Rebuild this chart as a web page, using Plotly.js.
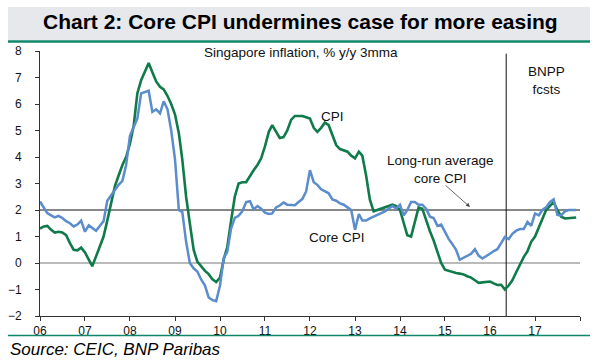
<!DOCTYPE html>
<html><head><meta charset="utf-8">
<script src="https://cdn.plot.ly/plotly-3.0.1.min.js"></script>
<style>html,body{margin:0;padding:0;background:#fff}#chart{width:600px;height:360px}</style>
</head><body><div id="chart"></div>
<script>
const startYear = 2006;
// Headline CPI, % y/y 3mma, monthly Jan-2006 .. Dec-2017
const cpi = [
  1.30, 1.38, 1.40, 1.25, 1.15, 1.18, 1.15, 1.05, 0.75, 0.50, 0.48, 0.58,
  0.40, 0.12, -0.12, 0.25, 0.60, 1.00, 1.60, 2.30, 2.90, 3.30, 3.70, 4.00,
  4.50, 5.20, 6.40, 6.90, 7.20, 7.55, 7.20, 6.85, 6.65, 6.55, 6.30, 6.00,
  5.60, 4.90, 3.90, 2.50, 1.50, 0.50, 0.05, -0.14, -0.30, -0.42, -0.62, -0.72,
  -0.55, 0.15, 0.60, 1.60, 2.50, 3.00, 3.05, 3.05, 3.30, 3.50, 3.70, 3.95,
  4.40, 4.95, 5.20, 4.95, 4.72, 4.75, 5.00, 5.40, 5.55, 5.55, 5.55, 5.50,
  5.45, 5.10, 4.95, 5.10, 5.30, 5.20, 4.80, 4.45, 4.30, 4.25, 4.20, 4.05,
  3.95, 4.20, 4.05, 3.30, 2.40, 1.95, 2.00, 2.05, 2.10, 2.15, 2.20, 2.15,
  2.00, 1.50, 1.05, 1.00, 1.50, 2.10, 2.05, 1.60, 1.20, 0.85, 0.45, 0.00,
  -0.25, -0.30, -0.33, -0.38, -0.40, -0.43, -0.50, -0.55, -0.65, -0.75, -0.73, -0.72,
  -0.70, -0.77, -0.83, -0.82, -1.00, -0.85, -0.65, -0.35, -0.05, 0.22, 0.45, 0.80,
  1.00, 1.35, 1.70, 2.00, 2.15, 2.30, 2.00, 1.75, 1.68, 1.70, 1.72, 1.72
];
// Core CPI, % y/y 3mma
const coreCpi = [
  2.32, 2.08, 1.88, 1.80, 1.72, 1.78, 1.70, 1.58, 1.50, 1.38, 1.45, 1.60,
  1.18, 1.42, 1.32, 1.22, 1.40, 1.58, 2.35, 2.55, 2.75, 2.95, 3.10, 3.70,
  4.80, 5.15, 5.45, 6.40, 6.45, 6.50, 5.70, 5.80, 5.65, 6.10, 5.80, 5.00,
  3.90, 2.00, 1.92, 0.80, 0.00, -0.20, -0.32, -0.62, -0.85, -1.30, -1.40, -1.44,
  -0.85, 0.20, 0.42, 1.30, 1.70, 1.78, 1.95, 2.30, 2.33, 2.02, 2.15, 2.05,
  1.90, 1.85, 1.87, 2.10, 2.17, 2.28, 2.20, 2.18, 2.18, 2.30, 2.42, 2.70,
  3.50, 3.05, 2.95, 2.78, 2.70, 2.63, 2.40, 2.35, 2.25, 2.20, 2.10, 2.00,
  1.25, 1.85, 1.60, 1.60, 1.68, 1.75, 1.82, 1.90, 1.95, 2.05, 2.15, 2.05,
  2.20, 1.80, 2.00, 2.30, 2.30, 2.20, 2.20, 2.05, 1.75, 1.70, 1.40, 1.45,
  1.15, 0.90, 0.72, 0.50, 0.12, 0.20, 0.30, 0.35, 0.52, 0.28, 0.17, 0.25,
  0.35, 0.45, 0.52, 0.75, 0.98, 0.90, 1.10, 1.22, 1.28, 1.28, 1.55, 1.40,
  1.87, 1.80, 2.00, 2.10, 2.30, 2.40, 1.82, 1.80, 1.95, 2.00, 2.00, 2.00
];
const yearTickLabels = ['06','07','08','09','10','11','12','13','14','15','16','17',''];
const longRunAvgCore = 2;
const forecastStart = '2016-05-12';

const dates = cpi.map((_, i) => {
  const y = startYear + Math.floor(i / 12), m = (i % 12) + 1;
  return y + '-' + String(m).padStart(2, '0') + '-01';
});
const tickVals = yearTickLabels.map((_, k) => (startYear + k) + '-01-01');

const FONT = 'Liberation Sans, Arial, sans-serif';
const traces = [
  {x: dates, y: cpi, type: 'scatter', mode: 'lines', name: 'CPI',
   line: {color: '#107b4a', width: 2.6}},
  {x: dates, y: coreCpi, type: 'scatter', mode: 'lines', name: 'Core CPI',
   line: {color: '#5b8ccb', width: 2.5}}
];

function txt(x, y, text, size, extra) {
  return Object.assign({xref: 'paper', yref: 'paper', x: x, y: y, xanchor: 'center', yanchor: 'middle',
    showarrow: false, text: text, font: {family: FONT, size: size, color: '#111'}}, extra || {});
}

const layout = {
  width: 600, height: 360,
  margin: {l: 40, r: 20, t: 51, b: 44},
  paper_bgcolor: '#fff', plot_bgcolor: '#fff',
  showlegend: false,
  font: {family: FONT, size: 12, color: '#111'},
  xaxis: {type: 'date', range: ['2006-01-01', '2018-01-01'],
    tickmode: 'array', tickvals: tickVals, ticktext: yearTickLabels,
    ticks: 'outside', ticklen: 4, tickcolor: '#333', showline: true, linecolor: '#333', linewidth: 1,
    showgrid: false, zeroline: false, tickfont: {size: 12, color: '#111'}},
  yaxis: {range: [-2, 8], dtick: 1, ticks: 'outside', ticklen: 4, tickcolor: '#333',
    showline: true, linecolor: '#333', linewidth: 1, showgrid: false, zeroline: false,
    ticklabelstandoff: 11, tickfont: {size: 12, color: '#111'}},
  shapes: [
    {type: 'rect', xref: 'paper', yref: 'paper', x0: -0.0593, x1: 1.0185, y0: 1.0415, y1: 1.166,
     fillcolor: '#e6e8ec', line: {width: 0}, layer: 'above'},
    {type: 'line', xref: 'paper', yref: 'paper', x0: -0.0593, x1: 1.0185, y0: 1.0357, y1: 1.0357,
     line: {color: '#10876a', width: 2.6}},
    {type: 'line', xref: 'paper', yref: 'paper', x0: -0.0593, x1: 1.0185, y0: -0.0736, y1: -0.0736,
     line: {color: '#10876a', width: 1.5}},
    {type: 'line', xref: 'x', yref: 'y', x0: '2006-01-01', x1: '2018-01-01', y0: 0, y1: 0,
     line: {color: '#777', width: 1}, layer: 'below'},
    {type: 'line', xref: 'x', yref: 'y', x0: '2006-01-01', x1: '2018-01-01', y0: longRunAvgCore, y1: longRunAvgCore,
     line: {color: '#111', width: 1}, layer: 'below'},
    {type: 'line', xref: 'x', yref: 'y', x0: forecastStart, x1: forecastStart, y0: -2, y1: 7.9,
     line: {color: '#111', width: 1}, layer: 'below'}
  ],
  annotations: [
    txt(0.4815, 1.11, '<b>Chart 2: Core CPI undermines case for more easing</b>', 21, {font: {family: FONT, size: 21, color: '#000'}}),
    txt(0.4833, 0.9925, 'Singapore inflation, % y/y 3mma', 13.5),
    txt(0.9383, 0.8887, 'BNPP<br>fcsts', 13.5),
    txt(0.5413, 0.7547, 'CPI', 13.5),
    txt(0.5494, 0.2955, 'Core CPI', 13.5),
    txt(0.742, 0.5528, 'Long-run average<br>core CPI', 13.5),
    {xref: 'paper', yref: 'paper', x: 0.7963, y: 0.4113, text: '', showarrow: true,
     ax: -26, ay: -23, arrowhead: 2, arrowsize: 1, arrowwidth: 0.8, arrowcolor: '#444'},
    txt(-0.0593, -0.1283, '<i>Source: CEIC, BNP Paribas</i>', 17, {xanchor: 'left', font: {family: FONT, size: 17, color: '#000'}})
  ]
};

Plotly.newPlot('chart', traces, layout, {staticPlot: true, displayModeBar: false});
</script>
</body></html>
